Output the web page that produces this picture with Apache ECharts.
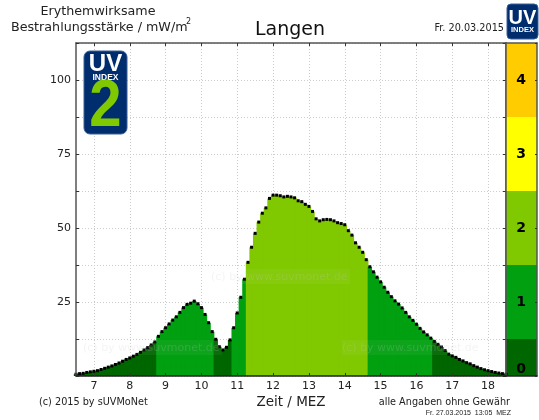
<!DOCTYPE html>
<html>
<head>
<meta charset="utf-8">
<style>
  html, body { margin: 0; padding: 0; background: #fff; }
  #uv { width: 539px; height: 420px; }
</style>
<script src="https://cdn.jsdelivr.net/npm/echarts@6/dist/echarts.min.js"></script>
</head>
<body>
<div id="uv"></div>
<script>
// erythemal irradiance, 6 min steps from 6.5 to 18.5 h
var irradiance = [
  0.6, 0.8, 0.9, 1.2, 1.4, 1.6, 1.8, 2.2, 2.6, 3.0,
  3.4, 3.9, 4.4, 5.0, 5.6, 6.1, 6.7, 7.3, 8.0, 8.8,
  9.6, 10.5, 11.5, 13.4, 15.0, 16.3, 17.6, 18.9, 20.0, 21.5,
  23.1, 24.2, 24.6, 25.3, 24.4, 23.1, 20.8, 18.0, 15.0, 12.4,
  9.9, 8.8, 9.7, 12.2, 16.3, 21.3, 26.6, 32.7, 38.4, 43.5,
  48.2, 52.0, 55.0, 56.8, 60.0, 61.1, 61.1, 60.9, 60.5, 60.7,
  60.5, 60.2, 59.2, 58.9, 58.0, 57.3, 55.6, 53.1, 52.4, 52.8,
  52.9, 52.8, 52.4, 51.8, 51.5, 51.1, 49.1, 47.6, 45.0, 43.5,
  41.8, 39.3, 36.9, 35.2, 33.4, 31.8, 30.0, 28.3, 26.8, 25.4,
  24.3, 23.0, 21.5, 20.0, 18.8, 17.5, 16.1, 14.9, 13.9, 12.8,
  11.7, 10.7, 9.8, 8.6, 7.4, 6.8, 6.3, 5.6, 5.1, 4.5,
  4.1, 3.5, 3.0, 2.5, 2.1, 1.8, 1.5, 1.2, 1.0, 0.8, 0.6
];
var times = irradiance.map(function (v, i) { return (6.5 + i * 0.1).toFixed(1); });

// UV index bands for the colour bar
var bandSizes = [12.5, 25, 25, 25, 25];
var bandLimits = [12.5, 37.5, 62.5, 87.5, 112.5];
var bandColors = ["#006600", "#00a010", "#80c800", "#ffff00", "#ffcc00"];

var yMax = 112.5;
var lineColor = "#555";
var gridColor = "#ccc";
var textColor = "#222";
var font = "DejaVu Sans";
var logoFont = "Liberation Sans";

function bandColor(v) {
  for (var i = 0; i < bandLimits.length; i++) {
    if (v < bandLimits[i]) return bandColors[i];
  }
  return bandColors[bandColors.length - 1];
}

function isHour(i, val) {
  return Number(val) % 1 === 0;
}

function label(text, x, y, size, align, extra) {
  return {
    type: "text",
    x: x,
    y: y,
    z: 20,
    style: Object.assign({
      text: text,
      fontFamily: font,
      fontSize: size,
      fill: textColor,
      align: align,
      verticalAlign: "middle",
    }, extra || {}),
  };
}

function watermark(x, y) {
  return {
    type: "group",
    x: x,
    y: y,
    children: [
      {
        type: "rect",
        z: 15,
        shape: { x: 0, y: 0, width: 139, height: 15 },
        style: { fill: "rgba(255,255,255,0.05)" },
      },
      {
        type: "text",
        z: 16,
        x: 0,
        y: 8,
        style: {
          text: "(c) by www.suvmonet.de",
          fontFamily: font,
          fontSize: 11,
          fill: "rgba(200,200,200,0.2)",
          verticalAlign: "middle",
        },
      },
    ],
  };
}

function logoText(text, cy, w, size, color, scaleX) {
  return {
    type: "text",
    z: 19,
    x: w / 2,
    y: cy,
    scaleX: scaleX || 1,
    style: {
      text: text,
      fontFamily: logoFont,
      fontWeight: "bold",
      fontSize: size,
      fill: color,
      align: "center",
      verticalAlign: "middle",
    },
  };
}

// the UV INDEX badge, big one carries the index number
function badge(x, y, w, h, number) {
  var kids = [
    {
      type: "rect",
      z: 18,
      shape: { x: 0, y: 0, width: w, height: h, r: number ? 6 : 4 },
      style: { fill: "#002d6e", stroke: "#3a5f96", lineWidth: 1 },
    },
  ];
  if (number) {
    kids.push(
      logoText("UV", 13, w, 24, "#fff"),
      logoText("INDEX", 26.5, w, 8.5, "#fff"),
      logoText(number, 57, w, 66, "#80c800", 0.88)
    );
  } else {
    kids.push(
      logoText("UV", 14, w, 20, "#fff"),
      logoText("INDEX", 25.5, w, 7.5, "#fff")
    );
  }
  return { type: "group", x: x, y: y, children: kids };
}

var chart = echarts.init(document.getElementById("uv"), null, { renderer: "canvas" });

var plotGrid = { left: 76, top: 43, width: 430, height: 333 };
var barGrid = { left: 506, top: 43, width: 31, height: 333 };

var frame = { show: true, onZero: false, lineStyle: { color: lineColor, width: 1.5 } };
var ticks = { show: true, inside: true, length: 3, lineStyle: { color: "#333", width: 1 } };

var option = {
  animation: false,
  backgroundColor: "#fff",
  textStyle: { fontFamily: font },
  grid: [plotGrid, barGrid],
  xAxis: [
    {
      type: "category",
      gridIndex: 0,
      data: times,
      boundaryGap: false,
      position: "bottom",
      z: 5,
      axisLine: { show: true, onZero: false, lineStyle: { color: "#222", width: 1.5 } },
      axisTick: Object.assign({ interval: isHour, alignWithLabel: true }, ticks),
      axisLabel: {
        interval: isHour,
        color: textColor,
        fontSize: 11,
        margin: 5,
        formatter: function (v) { return String(parseInt(v, 10)); },
      },
      splitLine: { show: false },
    },
    {
      type: "category",
      gridIndex: 0,
      data: times,
      boundaryGap: false,
      position: "top",
      z: 0,
      axisLine: frame,
      axisTick: Object.assign({ interval: isHour }, ticks),
      axisLabel: { show: false },
      splitLine: {
        show: true,
        interval: isHour,
        lineStyle: { color: gridColor, type: [1, 2], width: 1 },
      },
    },
    {
      type: "category",
      gridIndex: 1,
      data: ["UV"],
      position: "bottom",
      z: 5,
      axisLine: { show: true, onZero: false, lineStyle: { color: "#222", width: 1.5 } },
      axisTick: { show: false },
      axisLabel: { show: false },
    },
    {
      type: "category",
      gridIndex: 1,
      data: ["UV"],
      position: "top",
      z: 5,
      axisLine: { show: true, onZero: false, lineStyle: { color: lineColor, width: 1.5 } },
      axisTick: { show: false },
      axisLabel: { show: false },
    },
  ],
  yAxis: [
    {
      type: "value",
      gridIndex: 0,
      min: 0,
      max: yMax,
      interval: 12.5,
      position: "left",
      z: 5,
      axisLine: frame,
      axisTick: ticks,
      axisLabel: {
        color: textColor,
        fontSize: 11,
        margin: 5,
        formatter: function (v) { return v > 0 && v % 25 === 0 ? String(v) : ""; },
      },
      splitLine: { show: false },
    },
    {
      type: "value",
      gridIndex: 0,
      min: 0,
      max: yMax,
      interval: 12.5,
      position: "right",
      z: 0,
      axisLine: frame,
      axisTick: ticks,
      axisLabel: { show: false },
      splitLine: { show: true, lineStyle: { color: gridColor, type: [1, 2], width: 1 } },
    },
    {
      type: "value",
      gridIndex: 1,
      min: 0,
      max: yMax,
      interval: 25,
      position: "right",
      z: 5,
      axisLine: { show: true, onZero: false, lineStyle: { color: lineColor, width: 1.5 } },
      axisTick: { show: true, inside: true, length: 2, lineStyle: { color: "#333" } },
      axisLabel: {
        inside: true,
        margin: 11,
        color: "#000",
        fontSize: 14,
        fontWeight: "bold",
        verticalAlignMinLabel: "bottom",
        formatter: function (v) { return v % 25 === 0 ? String(v / 25) : ""; },
      },
      splitLine: { show: false },
    },
    {
      type: "value",
      gridIndex: 1,
      min: 0,
      max: yMax,
      position: "left",
      z: 5,
      axisLine: { show: true, onZero: false, lineStyle: { color: lineColor, width: 1.5 } },
      axisTick: { show: false },
      axisLabel: { show: false },
      splitLine: { show: false },
    },
  ],
  series: [
    {
      name: "irradiance",
      type: "bar",
      xAxisIndex: 0,
      yAxisIndex: 0,
      barWidth: 4.4,
      z: 2,
      data: irradiance.map(function (v) {
        return { value: v, itemStyle: { color: bandColor(v) } };
      }),
    },
    {
      name: "points",
      type: "scatter",
      xAxisIndex: 0,
      yAxisIndex: 0,
      symbol: "rect",
      symbolSize: 3,
      z: 3,
      itemStyle: { color: "#000", opacity: 1 },
      data: irradiance,
    },
  ].concat(bandSizes.map(function (size, i) {
    return {
      name: "band" + i,
      type: "bar",
      stack: "bands",
      xAxisIndex: 2,
      yAxisIndex: 2,
      barWidth: "100%",
      itemStyle: { color: bandColors[i] },
      data: [size],
    };
  })),
  graphic: [
    label("Erythemwirksame", 98, 12, 12.7, "center"),
    label("Bestrahlungsstärke / mW/m", 11, 28, 12.7, "left"),
    label("2", 186, 22, 8, "left"),
    label("Langen", 290, 30, 19, "center", { fill: "#111" }),
    label("Fr. 20.03.2015", 504, 28, 9.7, "right"),
    label("(c) 2015 by sUVMoNet", 39, 402, 9.7, "left"),
    label("Zeit / MEZ", 291, 402, 13.5, "center"),
    label("alle Angaben ohne Gewähr", 510, 402, 9.7, "right"),
    label("Fr. 27.03.2015  13:05  MEZ", 511, 413, 7, "right", { fontFamily: "Liberation Sans Narrow, Liberation Sans" }),
    badge(84, 51, 43, 83, "2"),
    badge(507, 4, 31, 35, null),
    watermark(211, 269),
    watermark(83, 340),
    watermark(342, 340),
  ],
};

chart.setOption(option);

window.onresize = function () {
  chart.resize();
};
</script>
</body>
</html>
